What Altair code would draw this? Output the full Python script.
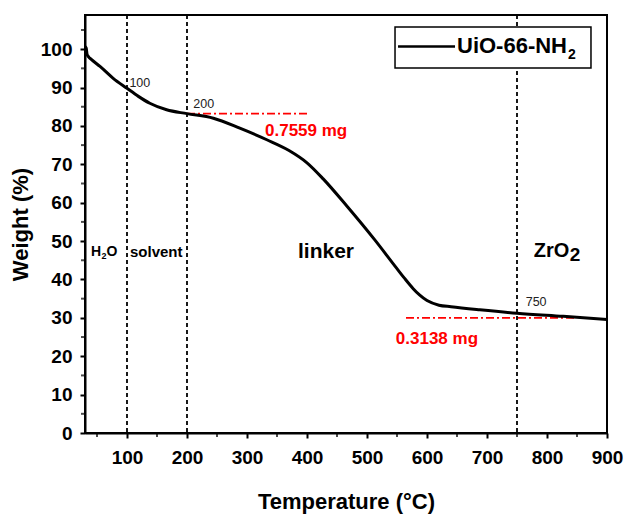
import altair as alt
import pandas as pd

FONT = "Liberation Sans"

# ---- data ----
temp = [30, 32, 33.5, 36, 40, 55, 77, 100, 119, 138, 166, 200, 244, 288, 333, 370, 400,
        427, 466, 513, 549, 562, 577, 588, 600, 620, 640, 688, 750, 827, 900]
weight = [100.7, 100.3, 98.6, 98.0, 97.4, 95.5, 92.4, 89.8, 87.7, 85.9, 84.2, 83.2, 82.0,
          79.4, 76.4, 73.6, 70.4, 66.2, 59.2, 50.3, 43.0, 40.4, 37.6, 35.9, 34.5,
          33.3, 32.9, 32.1, 31.2, 30.4, 29.6]
series_name = "UiO-66-NH"

x_major = [100, 200, 300, 400, 500, 600, 700, 800, 900]
x_minor = [50, 150, 250, 350, 450, 550, 650, 750, 850]
y_major = [0, 10, 20, 30, 40, 50, 60, 70, 80, 90, 100]
y_minor = [5, 15, 25, 35, 45, 55, 65, 75, 85, 95, 105]

marker_temps = [100, 200, 750]
marker_labels = ["100", "200", "750"]
marker_label_x = [104, 210.5, 764.5]
marker_label_y = [90.1, 84.6, 33.2]

seg_start = [200, 565]
seg_end = [402, 849]
seg_level = [83.2, 30.0]
seg_labels = ["0.7559 mg", "0.3138 mg"]
seg_label_x = [330, 548]
seg_label_y = [77.4, 23.3]

region_labels = ["linker"]
region_x = [385]
region_y = [45.6]

X_MIN = 30
Y_MIN = 0
xs = alt.Scale(domain=[X_MIN, 900], nice=False, zero=False)
ys = alt.Scale(domain=[Y_MIN, 108.9], nice=False, zero=False)

axis_common = dict(
    grid=False, domainColor="black", domainWidth=2, tickColor="black", tickWidth=2,
    labelFont=FONT, labelFontWeight="bold", labelColor="black", labelFontSize=19,
    labelFlush=False, labelOverlap=False, titleFont=FONT, titleFontWeight="bold",
    titleColor="black", titleFontSize=22,
)

curve_df = pd.DataFrame({"T": temp, "W": weight})
line = alt.Chart(curve_df).mark_line(color="black", strokeWidth=3, interpolate="monotone").encode(
    x=alt.X("T:Q", scale=xs, axis=alt.Axis(values=x_major, title="Temperature (°C)", orient="bottom",
                                           tickSize=5, labelPadding=10, titlePadding=24, **axis_common)),
    y=alt.Y("W:Q", scale=ys, axis=alt.Axis(values=y_major, title="Weight (%)", orient="left",
                                           tickSize=5, labelPadding=8, titlePadding=8, **axis_common)),
)

# minor ticks (outward, short)
xminor = alt.Chart(pd.DataFrame({"x": x_minor, "y": [Y_MIN] * len(x_minor)})).mark_tick(
    orient="vertical", size=3, thickness=2, color="black", yOffset=2.5
).encode(x=alt.X("x:Q", scale=xs, axis=None), y=alt.Y("y:Q", scale=ys, axis=None))
yminor = alt.Chart(pd.DataFrame({"x": [X_MIN] * len(y_minor), "y": y_minor})).mark_tick(
    orient="horizontal", size=3, thickness=2, color="black", xOffset=-2.5
).encode(x=alt.X("x:Q", scale=xs, axis=None), y=alt.Y("y:Q", scale=ys, axis=None))

rules = alt.Chart(pd.DataFrame({"T": marker_temps})).mark_rule(
    color="black", strokeWidth=1.8, strokeDash=[4, 3]
).encode(x=alt.X("T:Q", scale=xs, axis=None))

seg_df = pd.DataFrame({"x0": seg_start, "x1": seg_end, "y": seg_level})
segs = alt.Chart(seg_df).mark_rule(color="red", strokeWidth=1.6, strokeDash=[8, 3, 2, 3]).encode(
    x=alt.X("x0:Q", scale=xs, axis=None),
    x2="x1:Q",
    y=alt.Y("y:Q", scale=ys, axis=None),
)


def text_layer(df, size, weight="bold", color="black", dx=0, dy=0):
    return alt.Chart(df).mark_text(
        align="left", baseline="alphabetic", font=FONT, fontSize=size, fontWeight=weight,
        color=color, dx=dx, dy=dy
    ).encode(
        x=alt.X("x:Q", scale=xs, axis=None),
        y=alt.Y("y:Q", scale=ys, axis=None),
        text="t:N",
    )


marker_txt = text_layer(pd.DataFrame({"t": marker_labels, "x": marker_label_x, "y": marker_label_y}),
                        12.5, weight="normal", color="#222222")
seg_txt = text_layer(pd.DataFrame({"t": seg_labels, "x": seg_label_x, "y": seg_label_y}), 17, color="red")
linker_txt = text_layer(pd.DataFrame({"t": region_labels, "x": region_x, "y": region_y}), 21)

# H2O and solvent
h_txt = text_layer(pd.DataFrame({"t": ["H"], "x": [40], "y": [46.2]}), 14)
h_sub = text_layer(pd.DataFrame({"t": ["2"], "x": [40], "y": [46.2]}), 9, dx=10.5, dy=3)
h_o = text_layer(pd.DataFrame({"t": ["O"], "x": [40], "y": [46.2]}), 14, dx=15.5)
solvent_txt = text_layer(pd.DataFrame({"t": ["solvent"], "x": [105], "y": [45.8]}), 15)

# ZrO2
zr_txt = text_layer(pd.DataFrame({"t": ["ZrO"], "x": [778], "y": [45.9]}), 20)
zr_sub = text_layer(pd.DataFrame({"t": ["2"], "x": [778], "y": [45.9]}), 19, dx=36, dy=4)

# legend (drawn in the plot, like the original)
leg_box = alt.Chart(pd.DataFrame({"x0": [546.7], "x1": [873.3], "y0": [105.8], "y1": [95.1]})).mark_rect(
    fill="white", stroke="black", strokeWidth=1.5
).encode(
    x=alt.X("x0:Q", scale=xs, axis=None), x2="x1:Q",
    y=alt.Y("y0:Q", scale=ys, axis=None), y2="y1:Q",
)
leg_line = alt.Chart(pd.DataFrame({"x0": [551.7], "x1": [646.7], "y": [100.7]})).mark_rule(
    color="black", strokeWidth=2.5
).encode(x=alt.X("x0:Q", scale=xs, axis=None), x2="x1:Q", y=alt.Y("y:Q", scale=ys, axis=None))
leg_txt = text_layer(pd.DataFrame({"t": [series_name], "x": [650], "y": [98.96]}), 22)
leg_sub = text_layer(pd.DataFrame({"t": ["2"], "x": [650], "y": [98.96]}), 14, dx=111, dy=6)

chart = alt.layer(
    rules, segs, line, xminor, yminor, marker_txt, seg_txt, linker_txt, h_txt, h_sub, h_o,
    solvent_txt, zr_txt, zr_sub, leg_box, leg_line, leg_txt, leg_sub
).resolve_axis(x="independent", y="independent").properties(
    width=522, height=418,
    background="white",
    autosize=alt.AutoSizeParams(type="none"),
    padding={"left": 85, "top": 15, "right": 19, "bottom": 85},
).configure_view(stroke="black", strokeWidth=2)

chart.save("out.html", embed_options={"renderer": "svg", "actions": False})
